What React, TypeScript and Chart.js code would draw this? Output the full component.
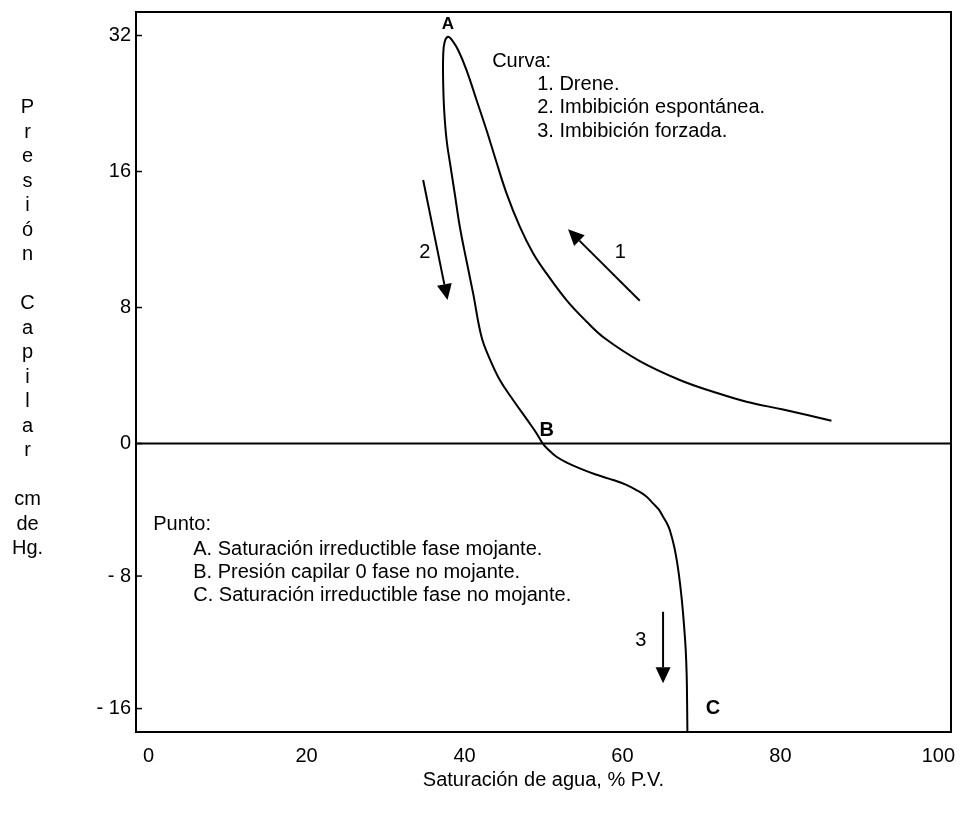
import React, { useEffect, useRef } from 'react';
import { Chart, registerables } from 'chart.js';

Chart.register(...registerables);

// ---- Data (water saturation %, capillary pressure cm Hg) ----
// Drainage curve (1): from high saturation up to point A
const drainageSw = [86.46, 80.33, 75.7, 71.47, 67.25, 62.19, 57.76, 55.44, 52.91, 50.38, 48.68, 47.0, 45.32, 43.96, 42.78, 41.52, 40.25, 39.19, 38.46, 37.92];
const drainagePc = [1.34, 2.0, 2.46, 3.05, 3.74, 4.85, 6.19, 7.18, 8.31, 9.52, 10.55, 12.08, 14.32, 16.97, 19.77, 23.04, 26.84, 29.72, 31.19, 31.8];
// Imbibition curves (2 spontaneous, 3 forced): from point A through B to C
const imbibitionSw = [37.92, 37.48, 37.3, 37.29, 37.42, 37.73, 38.2, 38.77, 39.41, 40.23, 41.09, 42.15, 43.2, 44.47, 46.15, 48.14, 49.09, 49.91, 50.73, 51.65, 52.95, 54.59, 56.62, 58.81, 60.42, 61.77, 62.95, 63.87, 64.59, 65.14, 65.61, 65.99, 66.56, 67.03, 67.35, 67.59, 67.82, 68.01, 68.13, 68.18, 68.22];
const imbibitionPc = [31.8, 30.96, 28.97, 25.51, 21.89, 18.79, 16.54, 14.27, 12.06, 10.19, 8.6, 6.28, 4.97, 3.74, 2.56, 1.26, 0.62, 0, -0.42, -0.8, -1.15, -1.5, -1.87, -2.2, -2.48, -2.81, -3.17, -3.61, -3.98, -4.42, -4.8, -5.22, -6.25, -7.52, -8.72, -9.81, -11.14, -12.47, -13.98, -15.48, -17.42];

// ---- Axes ----
const xTickValues = [0, 20, 40, 60, 80, 100];
const yTickValues = [-16, -8, 0, 8, 16, 32];
const yTickLabels = ['- 16', '- 8', '0', '8', '16', '32'];
const yTitleLines = ['P', 'r', 'e', 's', 'i', 'ó', 'n', '', 'C', 'a', 'p', 'i', 'l', 'a', 'r', '', 'cm', 'de', 'Hg.'];
const xTitle = 'Saturación de agua, % P.V.';

// the pressure axis is stretched: 32/16/8 are evenly spaced above 8, linear below
const NEG_FACTOR = 0.1218;
function toAxis(p: number): number {
  if (p >= 8) return 2 + Math.log2(p / 8);
  if (p >= 0) return 1 + p / 8;
  return 1 + p * NEG_FACTOR;
}

// ---- Annotations (x in %, y in axis units) ----
type Note = { text: string; x: number; y: number; align?: CanvasTextAlign; bold?: boolean; size?: number };
const notes: Note[] = [
  { text: 'A', x: 37.9, y: 4.05, align: 'center', bold: true, size: 17 },
  { text: 'B', x: 49.5, y: 1.055, bold: true },
  { text: 'C', x: 70.55, y: -0.989, bold: true },
  { text: 'Curva:', x: 43.5, y: 3.771 },
  { text: '1. Drene.', x: 49.2, y: 3.599 },
  { text: '2. Imbibición espontánea.', x: 49.2, y: 3.428 },
  { text: '3. Imbibición forzada.', x: 49.2, y: 3.256 },
  { text: 'Punto:', x: 0.58, y: 0.364 },
  { text: 'A. Saturación irreductible fase mojante.', x: 5.65, y: 0.18 },
  { text: 'B. Presión capilar 0 fase no mojante.', x: 5.65, y: 0.009 },
  { text: 'C. Saturación irreductible fase no mojante.', x: 5.65, y: -0.158 },
  { text: '1', x: 59.72, y: 2.364, align: 'center' },
  { text: '2', x: 34.97, y: 2.364, align: 'center' },
  { text: '3', x: 62.32, y: -0.489, align: 'center' },
];
const arrows = [
  { x1: 62.19, y1: 2.05, x2: 53.11, y2: 2.575 },
  { x1: 34.76, y1: 2.9375, x2: 37.85, y2: 2.055 },
  { x1: 65.14, y1: -0.237, x2: 65.14, y2: -0.763 },
];

const FONT = "'Liberation Sans', Arial, Helvetica, sans-serif";
const FONT_SIZE = 20;
const INK = '#000';

const decorPlugin = {
  id: 'decor',
  beforeDatasetsDraw(chart: any) {
    const { ctx, chartArea } = chart;
    const y = chart.scales.y;
    ctx.save();
    ctx.strokeStyle = INK;
    ctx.lineWidth = 2;
    ctx.strokeRect(chartArea.left, chartArea.top, chartArea.right - chartArea.left, chartArea.bottom - chartArea.top);
    const y0 = y.getPixelForValue(toAxis(0));
    ctx.beginPath();
    ctx.moveTo(chartArea.left, y0);
    ctx.lineTo(chartArea.right, y0);
    ctx.stroke();
    ctx.lineWidth = 1.5;
    y.ticks.forEach((t: any) => {
      const py = y.getPixelForValue(t.value);
      ctx.beginPath();
      ctx.moveTo(chartArea.left, py);
      ctx.lineTo(chartArea.left + 6, py);
      ctx.stroke();
    });
    ctx.restore();
  },
  afterDatasetsDraw(chart: any) {
    const { ctx } = chart;
    const xs = chart.scales.x;
    const ys = chart.scales.y;
    ctx.save();
    ctx.fillStyle = INK;
    ctx.strokeStyle = INK;
    ctx.textBaseline = 'alphabetic';
    notes.forEach((n) => {
      ctx.font = `${n.bold ? 'bold ' : ''}${n.size || FONT_SIZE}px ${FONT}`;
      ctx.textAlign = n.align || 'left';
      ctx.fillText(n.text, xs.getPixelForValue(n.x), ys.getPixelForValue(n.y));
    });
    ctx.lineWidth = 2;
    arrows.forEach((a) => {
      const x1 = xs.getPixelForValue(a.x1), y1 = ys.getPixelForValue(a.y1);
      const x2 = xs.getPixelForValue(a.x2), y2 = ys.getPixelForValue(a.y2);
      const ang = Math.atan2(y2 - y1, x2 - x1);
      const L = 16, W = 7.5;
      const bx = x2 - L * Math.cos(ang), by = y2 - L * Math.sin(ang);
      ctx.beginPath();
      ctx.moveTo(x1, y1);
      ctx.lineTo(bx, by);
      ctx.stroke();
      ctx.beginPath();
      ctx.moveTo(x2, y2);
      ctx.lineTo(bx + W * Math.sin(ang), by - W * Math.cos(ang));
      ctx.lineTo(bx - W * Math.sin(ang), by + W * Math.cos(ang));
      ctx.closePath();
      ctx.fill();
    });
    ctx.font = `${FONT_SIZE}px ${FONT}`;
    ctx.textAlign = 'center';
    yTitleLines.forEach((line, i) => {
      if (line) ctx.fillText(line, ys.left + 27.5, 113.3 + i * 24.5);
    });
    ctx.restore();
  },
};

export default function App() {
  const ref = useRef<HTMLCanvasElement | null>(null);
  useEffect(() => {
    if (!ref.current) return;
    Chart.defaults.color = INK;
    const points = drainageSw
      .map((sw, i) => ({ x: sw, y: toAxis(drainagePc[i]) }))
      .concat(imbibitionSw.slice(1).map((sw, i) => ({ x: sw, y: toAxis(imbibitionPc[i + 1]) })));
    const chart = new Chart(ref.current, {
      type: 'scatter',
      data: {
        datasets: [
          {
            label: 'Presión capilar',
            data: points,
            showLine: true,
            borderColor: INK,
            borderWidth: 2,
            pointRadius: 0,
            tension: 0.4,
            fill: false,
          },
        ],
      },
      options: {
        animation: false,
        responsive: false,
        devicePixelRatio: 1,
        layout: { padding: { top: 12, right: 10, left: 0, bottom: 0 } },
        plugins: { legend: { display: false }, tooltip: { enabled: false } },
        scales: {
          x: {
            type: 'linear',
            min: -1.6,
            max: 101.6,
            afterBuildTicks: (s: any) => {
              s.ticks = xTickValues.map((v) => ({ value: v }));
            },
            afterFit: (s: any) => {
              s.height = 81;
              s.paddingLeft = 0;
              s.paddingRight = 0;
            },
            grid: { display: false, drawTicks: false },
            border: { display: false },
            ticks: { color: INK, font: { family: FONT, size: FONT_SIZE }, padding: 12, maxRotation: 0, autoSkip: false },
            title: {
              display: true,
              text: xTitle,
              color: INK,
              font: { family: FONT, size: FONT_SIZE },
              padding: { top: 0, bottom: 21 },
            },
          },
          y: {
            type: 'linear',
            min: -1.121,
            max: 4.173,
            afterBuildTicks: (s: any) => {
              s.ticks = yTickValues.map((v) => ({ value: toAxis(v) }));
            },
            afterFit: (s: any) => {
              s.width = 136;
              s.paddingTop = 0;
              s.paddingBottom = 0;
            },
            grid: { display: false, drawTicks: false },
            border: { display: false },
            ticks: {
              color: INK,
              font: { family: FONT, size: FONT_SIZE },
              padding: 5,
              autoSkip: false,
              callback: (_v: any, i: number) => yTickLabels[i],
            },
          },
        },
      },
      plugins: [decorPlugin],
    });
    return () => chart.destroy();
  }, []);
  return (
    <div style={{ position: 'fixed', left: 0, top: 0, width: 961, height: 813, background: '#fff' }}>
      <canvas ref={ref} width={961} height={813} style={{ width: 961, height: 813, display: 'block' }} />
    </div>
  );
}
